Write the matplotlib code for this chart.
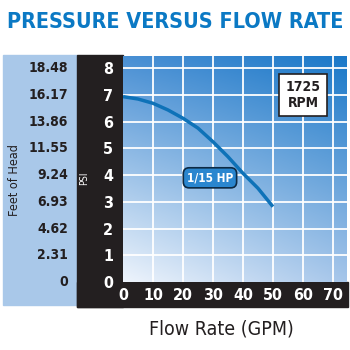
import numpy as np
import matplotlib
matplotlib.use("Agg")
import matplotlib.pyplot as plt
from matplotlib import font_manager as fm
from matplotlib.patches import Rectangle
import matplotlib.transforms as mtransforms

# chart data
flow_gpm = [0, 5, 10, 15, 20, 25, 30, 35, 40, 45, 50]
pressure_psi = [6.94, 6.85, 6.69, 6.44, 6.13, 5.76, 5.25, 4.69, 4.07, 3.51, 2.82]
psi_ticks = [0, 1, 2, 3, 4, 5, 6, 7, 8]
feet_labels = ["0", "2.31", "4.62", "6.93", "9.24", "11.55", "13.86", "16.17", "18.48"]
flow_ticks = [0, 10, 20, 30, 40, 50, 60, 70]

BLUE = "#0b79c4"
BLACK = "#231f20"
W = H = 350.0


# look for a narrow font, fall back to plain DejaVu
def narrow_font(bold):
    want = "bold" if bold else "normal"
    for f in fm.fontManager.ttflist:
        name = f.name.lower()
        narrow = "narrow" in name or "condensed" in name or f.stretch in ("condensed", "semi-condensed")
        isbold = f.weight in ("bold", 700, "demibold", 600)
        if narrow and isbold == bold and "italic" not in f.style and "oblique" not in f.style:
            return fm.FontProperties(fname=f.fname)
    return fm.FontProperties(family="DejaVu Sans", weight=want)


BOLD = narrow_font(True)
REG = narrow_font(False)


def fp(base, size):
    p = base.copy()
    p.set_size(size)
    return p


def fx(px):
    return px / W


def fy(py):
    return 1 - py / H


fig = plt.figure(figsize=(3.5, 3.5), dpi=100)
fig.patch.set_facecolor("white")

# side panels
fig.patches.append(Rectangle((fx(3), fy(305)), fx(77 - 3), (305 - 55) / H,
                             transform=fig.transFigure, color="#a9c8e9", zorder=-2))
fig.patches.append(Rectangle((fx(77), fy(307)), fx(123 - 77), (307 - 55) / H,
                             transform=fig.transFigure, color=BLACK, zorder=-2))
fig.patches.append(Rectangle((fx(77), fy(307)), fx(348 - 77), (307 - 282) / H,
                             transform=fig.transFigure, color=BLACK, zorder=-2))

fig.text(fx(175), fy(22), "PRESSURE VERSUS FLOW RATE", ha="center", va="center",
         color=BLUE, fontproperties=fp(BOLD, 15.5))

ax = fig.add_axes([fx(123), fy(282), fx(347 - 123), (282 - 56) / H])
xmax, ymax = 74.7, 8.46
ax.set_xlim(0, xmax)
ax.set_ylim(0, ymax)

# background gradient from the corner colours
tl = np.array([0x4a, 0x90, 0xd4]) / 255
tr = np.array([0x1a, 0x78, 0xc8]) / 255
bl = np.array([0xee, 0xf4, 0xfc]) / 255
br = np.array([0xa6, 0xc6, 0xea]) / 255
u = np.linspace(0, 1, 200)[None, :, None]
v = np.linspace(1, 0, 200)[:, None, None]
img = (tl * (1 - u) * v + tr * u * v + bl * (1 - u) * (1 - v) + br * u * (1 - v))
ax.imshow(img, extent=[0, xmax, 0, ymax], aspect="auto", zorder=0)

for x in flow_ticks[1:]:
    ax.axvline(x, color="white", lw=1.3, zorder=1)
for y in psi_ticks[1:]:
    ax.axhline(y, color="white", lw=1.3, zorder=1)

ax.plot(flow_gpm, pressure_psi, color="#0e72b8", lw=2.5, solid_capstyle="butt",
        solid_joinstyle="round", zorder=3)

for s in ax.spines.values():
    s.set_visible(False)

ax.set_xticks(flow_ticks)
ax.set_yticks(psi_ticks)
ax.tick_params(length=0, colors="white")
ax.tick_params(axis="y", pad=7)
ax.tick_params(axis="x", pad=4)
for lab in ax.get_xticklabels() + ax.get_yticklabels():
    lab.set_fontproperties(fp(BOLD, 11.5))

trans = mtransforms.blended_transform_factory(fig.transFigure, ax.transData)
for y, lab in zip(psi_ticks, feet_labels):
    ax.text(fx(68), y, lab, transform=trans, ha="right", va="center",
            fontproperties=fp(BOLD, 10), color=BLACK)

fig.text(fx(15), fy(180), "Feet of Head", rotation=90, ha="center", va="center",
         fontproperties=fp(REG, 9), color=BLACK)
fig.text(fx(84), fy(178), "PSI", rotation=90, ha="center", va="center",
         fontproperties=fp(REG, 7), color="white")
fig.text(fx(221), fy(329), "Flow Rate (GPM)", ha="center", va="center",
         fontproperties=fp(REG, 14), color=BLACK)

# annotations
ax.text(29, 3.9, "1/15 HP", ha="center", va="center", fontproperties=fp(BOLD, 8.5),
        color="white", zorder=5,
        bbox=dict(boxstyle="round,pad=0.3,rounding_size=0.5", fc="#2a86cf",
                  ec="#0d2a44", lw=1.2))
ax.text(60, 7.0, "1725\nRPM", ha="center", va="center", fontproperties=fp(BOLD, 10),
        color=BLACK, linespacing=1.1, zorder=5,
        bbox=dict(boxstyle="square,pad=0.45", fc="white", ec=BLACK, lw=1.2))

fig.savefig("out.png", dpi=100)
